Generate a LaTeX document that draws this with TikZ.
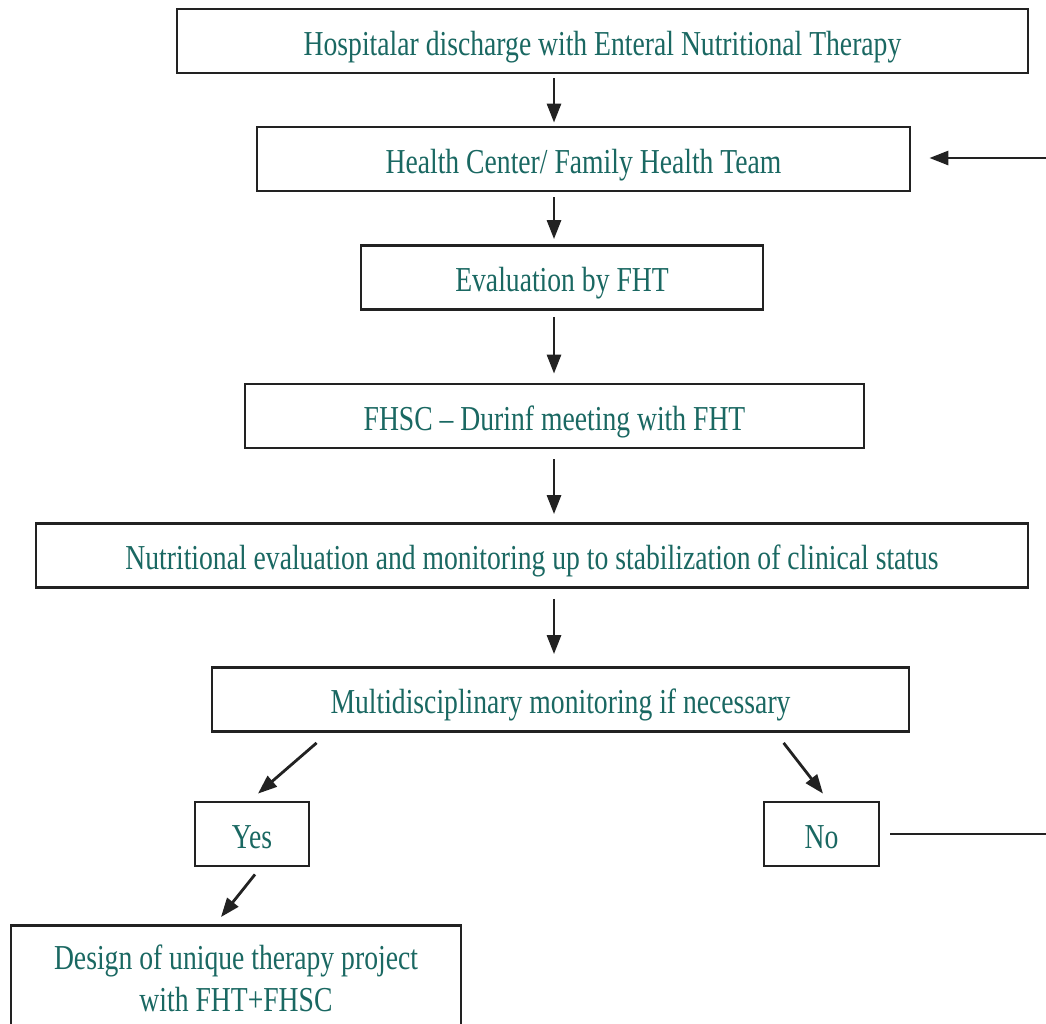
\documentclass[tikz,border=0pt]{standalone}
\usepackage{fontspec}
\setmainfont[FakeStretch=0.79]{Liberation Serif}
\usetikzlibrary{arrows.meta,calc}
\definecolor{txt}{RGB}{26,104,98}
\definecolor{ln}{RGB}{34,34,34}
\begin{document}
\begin{tikzpicture}[x=1pt,y=-1pt,
  box/.style={draw=ln,line width=2.8pt,inner sep=0pt,minimum height=64pt,
    text=txt,font=\fontsize{35}{42}\selectfont,align=center,
    text height=30pt,text depth=2pt},
  arr/.style={draw=ln,line width=2.8pt,-{Triangle[length=19pt,width=14pt]}},
  plain/.style={draw=ln,line width=2.8pt}]
\useasboundingbox (0,0) rectangle (1046,1023);
\clip (0,0) rectangle (1046,1023);
\fill[white] (0,0) rectangle (1046,1023);
\node[box,minimum width=851pt] (a) at (602.5,41) {Hospitalar discharge with Enteral Nutritional Therapy};
\node[box,minimum width=653pt] (b) at (583.5,159) {Health Center/ Family Health Team};
\node[box,minimum width=402pt] (c) at (562,277.5) {Evaluation by FHT};
\node[box,minimum width=619pt] (d) at (554.5,416) {FHSC – Durinf meeting with FHT};
\node[box,minimum width=992pt] (e) at (532,555.5) {Nutritional evaluation and monitoring up to stabilization of clinical status};
\node[box,minimum width=697pt] (f) at (560.5,699.5) {Multidisciplinary monitoring if necessary};
\node[box,minimum width=114pt] (yes) at (252,834) {Yes};
\node[box,minimum width=115pt] (no) at (821.5,834) {No};
\node[box,minimum width=450pt,minimum height=0pt,text height=86pt,text depth=20pt,anchor=north] (g) at (236,924) {Design of unique therapy project\\with FHT+FHSC};
\coordinate (spine) at (554,0);
\coordinate (edgeB) at (1046,158);
\coordinate (edgeN) at (1046,834);
\draw[arr] ([yshift=-4pt]a.south -| spine) -- ([yshift=3pt]b.north -| spine);
\draw[arr] ([yshift=-5pt]b.south -| spine) -- ([yshift=5pt]c.north -| spine);
\draw[arr] ([yshift=-6pt]c.south -| spine) -- ([yshift=9pt]d.north -| spine);
\draw[arr] ([yshift=-10pt]d.south -| spine) -- ([yshift=8pt]e.north -| spine);
\draw[arr] ([yshift=-10pt]e.south -| spine) -- ([yshift=12pt]f.north -| spine);
\draw[arr] ($(f.south west)+(106,10)$) -- ($(yes.north)+(6,-7)$);
\draw[arr] ($(f.south west)+(573,10)$) -- ($(no.north)+(1.5,-7)$);
\draw[arr] ($(yes.south)+(3,7)$) -- ($(g.north)+(-15,-7)$);
\draw[plain] ([xshift=10pt]no.east) -- (edgeN);
\draw[arr] (edgeB) -- ([xshift=18pt]b.east |- edgeB);
\end{tikzpicture}
\end{document}
